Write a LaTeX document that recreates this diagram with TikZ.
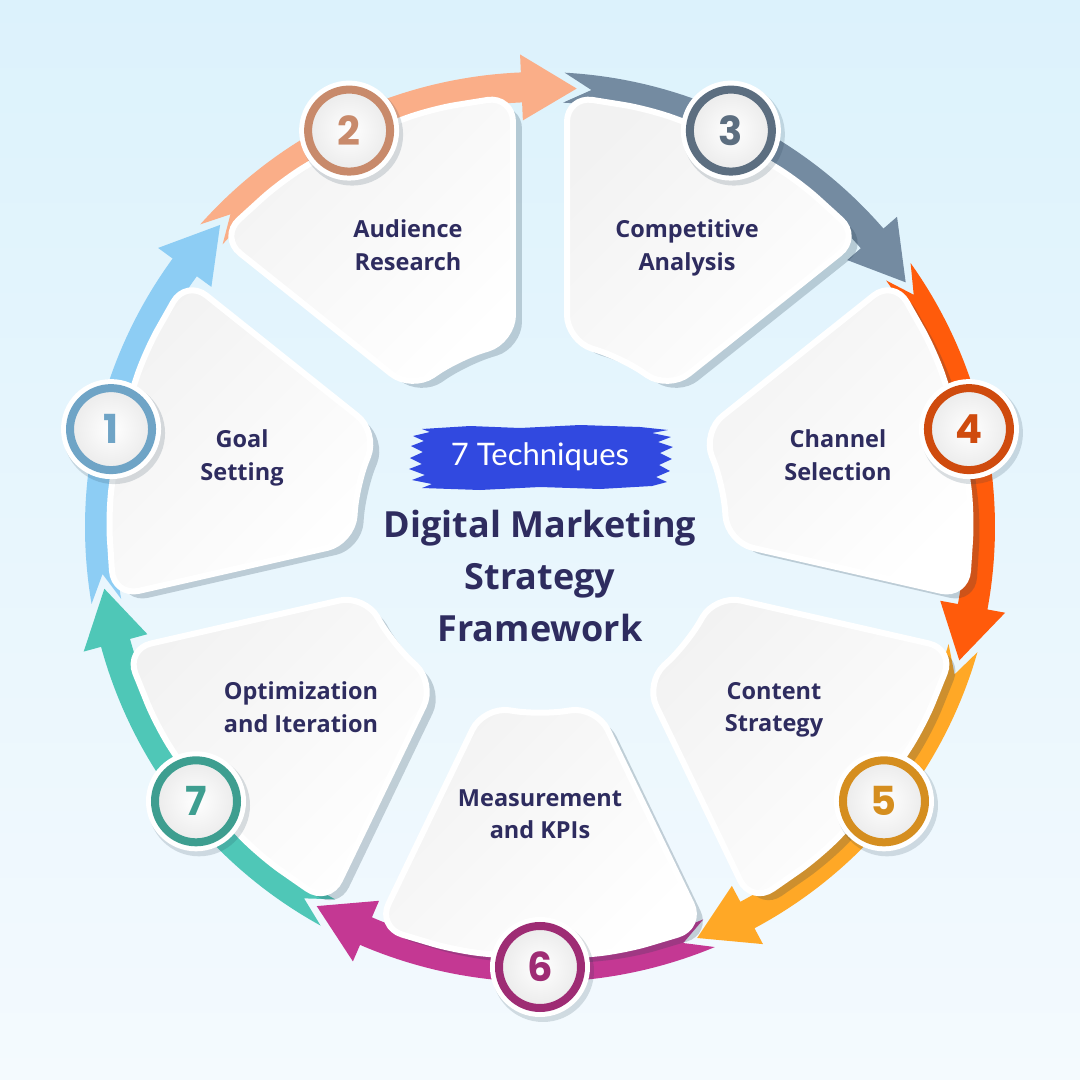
\documentclass[tikz,border=0pt]{standalone}
\usepackage{fontspec}
\setmainfont{Open Sans}
\newfontfamily\numfont{Poppins}
\newfontfamily\handfont{Lato}

\definecolor{ink}{HTML}{2E2C5F}
\definecolor{brush}{HTML}{3149E0}
\definecolor{shadowc}{HTML}{1E3A4E}
\definecolor{bgtop}{HTML}{DCF2FC}
\definecolor{bgbot}{HTML}{F4FAFE}
\definecolor{band1}{HTML}{8DCDF4}\definecolor{ring1}{HTML}{6FA4C6}
\definecolor{band2}{HTML}{FAAE88}\definecolor{ring2}{HTML}{C88A6B}
\definecolor{band3}{HTML}{748BA1}\definecolor{ring3}{HTML}{5C6E80}
\definecolor{band4}{HTML}{FF5B0B}\definecolor{ring4}{HTML}{CF4B0E}
\definecolor{band5}{HTML}{FFA826}\definecolor{ring5}{HTML}{D58E1F}
\definecolor{band6}{HTML}{C43893}\definecolor{ring6}{HTML}{9E2C74}
\definecolor{band7}{HTML}{4FC7B7}\definecolor{ring7}{HTML}{3E9E90}

\newcommand{\petal}[1]{({#1+22.13}:432pt) -- ({#1+11.07}:432pt) -- ({#1}:432pt) -- ({#1-11.07}:432pt) -- ({#1-22.13}:432pt) -- ({#1-17.45}:188pt) -- ({#1}:188pt) -- ({#1+17.45}:188pt) -- cycle}

\tikzset{
	sector/.style={rounded corners=26pt, draw=white, line width=6pt, top color=black!5, bottom color=white, shading angle=45},
	sectorshadow/.style={rounded corners=26pt, fill=shadowc, fill opacity=0.22},
	label/.style={font=\fontsize{23.5}{32.5}\selectfont\bfseries, text=ink, align=center},
	badge/.style={circle, minimum size=82pt, line width=8pt, inner sep=0pt, inner color=white, outer color=black!8, font=\numfont\fontsize{40}{40}\selectfont\bfseries},
	title/.style={font=\fontsize{36}{52}\selectfont\bfseries, text=ink, align=center},
	tag/.style={font=\handfont\fontsize{31}{31}\selectfont, text=white}
}

\begin{document}
\begin{tikzpicture}[x=1pt,y=1pt]
	\shade[top color=bgtop, bottom color=bgbot] (-540,-553) rectangle (540,527);
	\useasboundingbox (-540,-553) rectangle (540,527);

	\foreach \nr in {1, ..., 7}{
		\pgfmathsetmacro{\ang}{218.5714-51.4286*\nr}
		\pgfmathsetmacro{\aS}{\ang+22.6}
		\pgfmathsetmacro{\aN}{\ang+19}
		\pgfmathsetmacro{\aB}{\ang-23.3}
		\pgfmathsetmacro{\aT}{\ang-30.5}
		\fill[band\nr] (\aS:455pt) arc[start angle=\aS, end angle=\aB, radius=455pt] -- (\aB:473pt) -- (\aT:440pt) -- (\aB:407pt) -- (\aB:425pt) arc[start angle=\aB, end angle=\aS, radius=425pt] -- (\aN:440pt) -- cycle;
	}

	\foreach \nr in {1, ..., 7}{
		\pgfmathsetmacro{\ang}{218.5714-51.4286*\nr}
		\fill[sectorshadow, xshift=9pt, yshift=-7pt] \petal{\ang};
		\path[sector] \petal{\ang};
	}

	\foreach \nr/\x/\y/\txt in {1/-298/69/{Goal\\Setting}, 2/-132/282/{Audience\\Research}, 3/147/279/{Competitive\\Analysis}, 4/298/72/{Channel\\Selection}, 5/234/-183/{Content\\Strategy}, 6/0/-287/{Measurement\\and KPIs}, 7/-239/-180/{Optimization\\and Iteration}}{
		\node[label] (L\nr) at (\x,\y) {\txt};
	}

	\foreach \nr in {1, ..., 7}{
		\pgfmathsetmacro{\ang}{218.5714-51.4286*\nr}
		\coordinate (P\nr) at (\ang:440pt);
		\fill[shadowc, fill opacity=0.16] (P\nr) ++(3pt,-4pt) circle (51pt);
		\fill[white] (P\nr) circle (50pt);
		\node[badge, draw=ring\nr, text=ring\nr] (N\nr) at (P\nr) {\nr};
	}

	\fill[brush] (-118,98) -- (-70,101) -- (-20,99) -- (40,102) -- (100,100) -- (128,97) -- (112,94) -- (131,90) -- (118,85) -- (133,80) -- (120,74) -- (132,68) -- (119,62) -- (130,56) -- (116,50) -- (127,45) -- (112,41) -- (60,38) -- (0,40) -- (-60,37) -- (-118,39) -- (-108,43) -- (-128,47) -- (-115,52) -- (-131,58) -- (-118,63) -- (-130,69) -- (-117,75) -- (-129,81) -- (-116,86) -- (-127,91) -- (-110,95) -- cycle;
	\node[tag] (tag) at (0,70) {7 Techniques};
	\node[title] (T) at (0,-49) {Digital Marketing\\Strategy\\Framework};
\end{tikzpicture}
\end{document}
